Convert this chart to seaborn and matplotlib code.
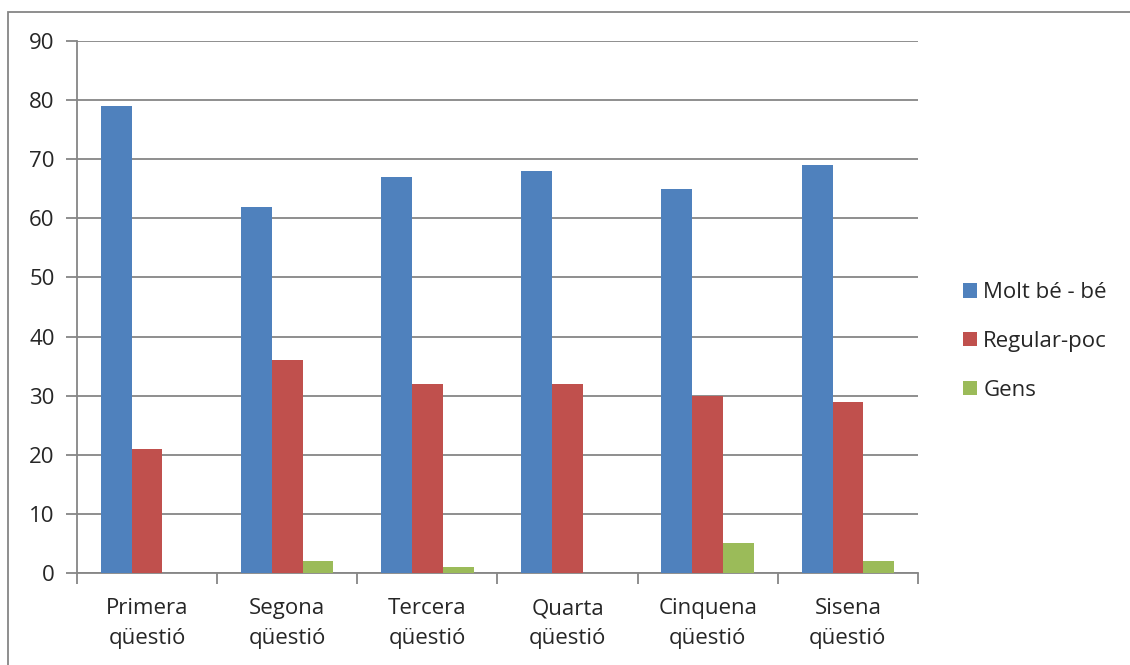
import pandas as pd
import seaborn as sns
import matplotlib.pyplot as plt
from matplotlib.patches import Rectangle

# Dades
questions = ["Primera\nqüestió", "Segona\nqüestió", "Tercera\nqüestió",
             "Quarta\nqüestió", "Cinquena\nqüestió", "Sisena\nqüestió"]
molt_be = [79, 62, 67, 68, 65, 69]
regular = [21, 36, 32, 32, 30, 29]
gens = [0, 2, 1, 0, 5, 2]
series = ["Molt bé - bé", "Regular-poc", "Gens"]
colors = ["#4F81BD", "#C0504D", "#9BBB59"]

df = pd.DataFrame({"questio": questions * 3,
                   "serie": [series[0]] * 6 + [series[1]] * 6 + [series[2]] * 6,
                   "valor": molt_be + regular + gens})

sns.set_style("white")
plt.rcParams['font.family'] = ['Open Sans', 'DejaVu Sans']

fig = plt.figure(figsize=(11.3, 6.65), dpi=100)
ax = fig.add_axes([0.0681, 0.1383, 0.7443, 0.8000])

sns.barplot(data=df, x="questio", y="valor", hue="serie", palette=colors,
            width=0.66, gap=0, saturation=1, linewidth=0, ax=ax, zorder=3)

grid_c = "#868686"
ax.set_ylim(0, 90)
ax.set_xlim(-0.5, 5.5)
ax.set_yticks(range(0, 91, 10))
ax.yaxis.grid(True, color=grid_c, linewidth=1.3, zorder=0)
ax.set_axisbelow(True)
for s in ["top", "right"]:
    ax.spines[s].set_visible(False)
for s in ["left", "bottom"]:
    ax.spines[s].set_color(grid_c)
    ax.spines[s].set_linewidth(1.3)

ax.tick_params(axis="y", left=True, length=8, width=1.3, color=grid_c,
               labelsize=16, pad=8)
ax.tick_params(axis="x", which="major", bottom=True, length=0, labelsize=16, pad=18)
ax.set_xticks([i - 0.5 for i in range(7)], minor=True)
ax.tick_params(axis="x", which="minor", bottom=True, length=8, width=1.3, color=grid_c)
for lbl in ax.get_xticklabels():
    lbl.set_linespacing(1.55)
ax.set_xlabel("")
ax.set_ylabel("")

ax.legend(loc="center left", bbox_to_anchor=(1.03, 0.435), frameon=False,
          fontsize=16, handlelength=0.6, handleheight=0.6, handletextpad=0.3,
          labelspacing=1.25)

# marc exterior
fig.patches.append(Rectangle((8 / 1130, -0.1), 1.2, 1 - 12 / 665 + 0.1,
                             transform=fig.transFigure, fill=False,
                             edgecolor=grid_c, linewidth=1.3))

plt.savefig("out.png", dpi=100)
plt.close()
